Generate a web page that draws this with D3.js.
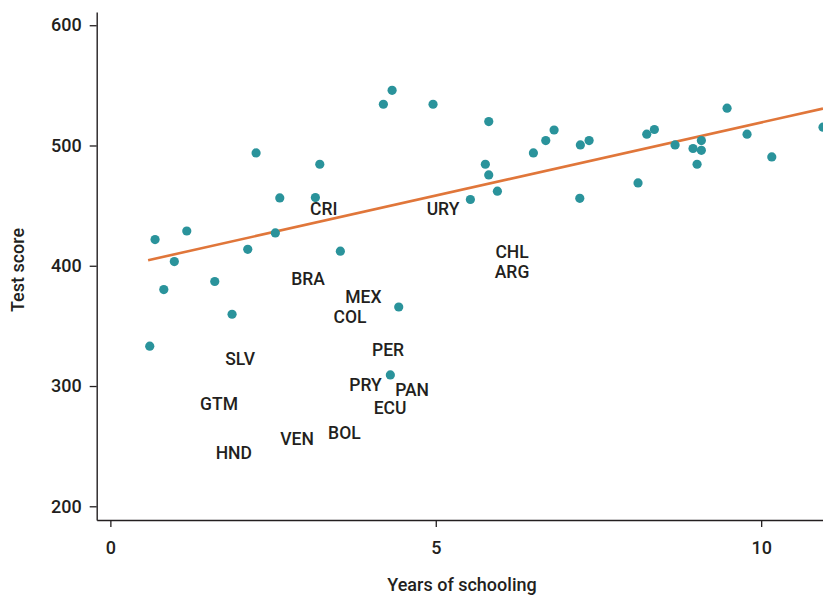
<!DOCTYPE html>
<html>
<head>
<meta charset="utf-8">
<script src="https://cdn.jsdelivr.net/npm/d3@7"></script>
<style>
  html, body { margin: 0; padding: 0; background: #fff; }
  svg { display: block; }
</style>
</head>
<body>
<svg id="chart" width="823" height="596"></svg>
<script>
// ---- Data ----
const schooling = [0.605, 0.687, 0.821, 0.983, 1.174, 1.604, 1.870, 2.111, 2.239, 2.535,
  2.603, 3.150, 3.218, 3.534, 4.195, 4.329, 4.302, 4.431, 4.958, 5.532,
  5.762, 5.814, 5.814, 5.947, 6.500, 6.690, 6.818, 7.213, 7.222, 7.356,
  8.108, 8.242, 8.359, 8.677, 8.953, 9.015, 9.081, 9.081, 9.476, 9.783,
  10.163, 10.95];
const scores = [333.1, 421.8, 380.2, 403.5, 428.9, 386.9, 359.7, 413.7, 493.8, 427.3,
  456.4, 456.7, 484.4, 412.1, 534.3, 545.9, 309.2, 365.7, 534.3, 455.1,
  484.4, 519.9, 475.5, 462.0, 493.8, 504.1, 512.9, 456.1, 500.5, 504.1,
  468.9, 509.4, 513.3, 500.5, 497.5, 484.4, 504.1, 496.0, 531.0, 509.4,
  490.5, 515.2];

const countryCodes = ["CRI", "URY", "CHL", "ARG", "BRA", "MEX", "COL", "PER",
  "PRY", "PAN", "ECU", "BOL", "VEN", "SLV", "GTM", "HND"];
const countrySchooling = [3.279, 5.112, 6.172, 6.172, 3.038, 3.888, 3.683, 4.267,
  3.921, 4.636, 4.298, 3.596, 2.869, 1.993, 1.670, 1.896];
const countryScores = [447.6, 447.6, 411.6, 394.9, 389.4, 374.1, 358.0, 330.3,
  301.5, 297.3, 282.1, 261.5, 256.3, 322.8, 285.4, 244.4];

const fitX = [0.58, 10.95];
const fitY = [404.6, 530.7];

const xTicks = [0, 5, 10];
const yTicks = [200, 300, 400, 500, 600];
const xTitle = "Years of schooling";
const yTitle = "Test score";

// ---- Chart ----
const svg = d3.select("#chart");
const ink = "#231f20";
const teal = "#2a939b";
const orange = "#e0763a";
const font = "Roboto, 'Liberation Sans', Arial, sans-serif";

const x = d3.scaleLinear().domain([-0.21, 10.95]).range([96.7, 823]);
const y = d3.scaleLinear().domain([188.6, 611]).range([520, 12]);

// Fit line
svg.append("path")
  .datum(fitX.map((v, i) => [v, fitY[i]]))
  .attr("fill", "none")
  .attr("stroke", orange)
  .attr("stroke-width", 2.6)
  .attr("d", d3.line().x(d => x(d[0])).y(d => y(d[1])));

// Points
svg.append("g").selectAll("circle")
  .data(schooling.map((v, i) => [v, scores[i]]))
  .join("circle")
  .attr("cx", d => x(d[0]))
  .attr("cy", d => y(d[1]))
  .attr("r", 4.6)
  .attr("fill", teal);

// Country labels
svg.append("g").selectAll("text")
  .data(countryCodes.map((c, i) => [c, countrySchooling[i], countryScores[i]]))
  .join("text")
  .attr("x", d => x(d[1]))
  .attr("y", d => y(d[2]))
  .attr("dy", "0.36em")
  .attr("text-anchor", "middle")
  .attr("fill", ink)
  .style("font-family", font)
  .style("font-weight", 500)
  .style("font-size", "17.5px")
  .text(d => d[0]);

// Axes
const gx = svg.append("g").attr("transform", "translate(0,520)")
  .call(d3.axisBottom(x).tickValues(xTicks).tickFormat(d3.format("d")).tickSize(7).tickSizeOuter(0).tickPadding(14));
const gy = svg.append("g").attr("transform", "translate(96.7,0)")
  .call(d3.axisLeft(y).tickValues(yTicks).tickFormat(d3.format("d")).tickSize(7).tickSizeOuter(0).tickPadding(8));

[gx, gy].forEach(g => {
  g.select(".domain").attr("stroke", ink).attr("stroke-width", 1.4);
  g.selectAll(".tick line").attr("stroke", ink).attr("stroke-width", 1.3);
  g.selectAll(".tick text").attr("fill", ink)
    .style("font-family", font).style("font-weight", 500).style("font-size", "18px");
});

// Axis titles
svg.append("text")
  .attr("x", 462).attr("y", 591)
  .attr("text-anchor", "middle")
  .attr("fill", ink)
  .style("font-family", font).style("font-weight", 500).style("font-size", "18px")
  .text(xTitle);

svg.append("text")
  .attr("transform", "translate(24,270) rotate(-90)")
  .attr("text-anchor", "middle")
  .attr("fill", ink)
  .style("font-family", font).style("font-weight", 500).style("font-size", "18px")
  .text(yTitle);
</script>
</body>
</html>
